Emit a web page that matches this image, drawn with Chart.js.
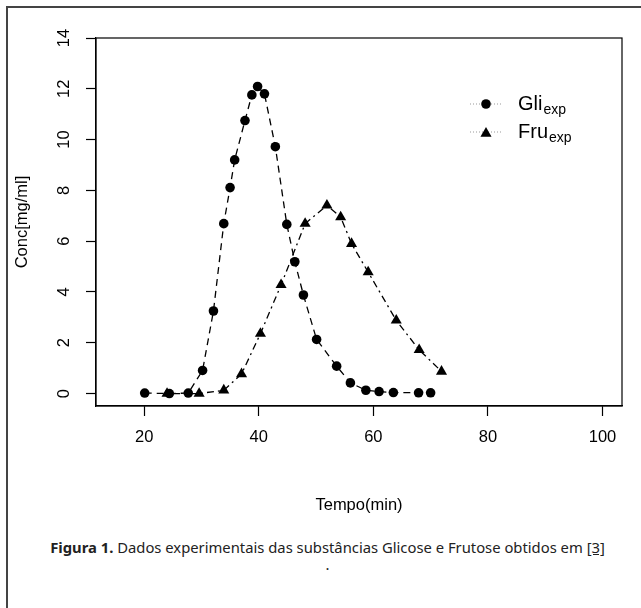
<!DOCTYPE html>
<html>
<head>
<meta charset="utf-8">
<script src="https://cdn.jsdelivr.net/npm/chart.js@4"></script>
<style>
html,body{margin:0;padding:0;background:#fff;width:641px;height:608px;overflow:hidden;}
#frame{position:absolute;left:6px;top:6px;width:700px;height:700px;border-left:2px solid #444;border-top:2px solid #444;}
#wrap{position:absolute;left:0;top:0;width:641px;height:530px;}
#caption{position:absolute;left:7px;width:641px;top:538.5px;text-align:center;font-family:"Noto Sans",sans-serif;font-size:14.8px;color:#222;line-height:17px;white-space:nowrap;}
</style>
</head>
<body>
<div id="frame"></div>
<div id="wrap"><canvas id="c" width="641" height="530"></canvas></div>
<div id="caption"><b>Figura 1.</b> Dados experimentais das substâncias Glicose e Frutose obtidos em <u>[3]</u><br>.</div>
<script>
// ---- data ----
const timeGli = [20.1, 24.4, 27.7, 30.2, 32.1, 33.9, 35.0, 35.8, 37.6, 38.8, 39.8, 41.0, 42.9, 44.9, 46.3, 47.8, 50.1, 53.6, 56.0, 58.7, 61.0, 63.5, 67.9, 70.0];
const concGli = [0.02, 0.0, 0.02, 0.91, 3.25, 6.69, 8.11, 9.2, 10.75, 11.76, 12.09, 11.8, 9.72, 6.66, 5.19, 3.88, 2.13, 1.08, 0.42, 0.13, 0.08, 0.04, 0.03, 0.03];
const timeFru = [24.0, 29.6, 33.9, 37.0, 40.3, 43.9, 48.1, 51.9, 54.3, 56.2, 59.1, 64.0, 68.0, 71.9];
const concFru = [0.0, 0.0, 0.13, 0.77, 2.36, 4.28, 6.69, 7.41, 6.95, 5.9, 4.78, 2.88, 1.72, 0.87];
const xTicks = [20, 40, 60, 80, 100];
const yTicks = [0, 2, 4, 6, 8, 10, 12, 14];
const seriesNames = ['Gli', 'Fru'];
const seriesSub = ['exp', 'exp'];
const xTitle = 'Tempo(min)';
const yTitle = 'Conc[mg/ml]';

const FAM = '"Liberation Sans", Arial, sans-serif';
const AX_FONT = {family: FAM, size: 16.5};
const CIRCLE_R = 4.8;
const TRI_R = 6.4;

function pts(xs, ys){ return xs.map((x,i)=>({x:x, y:ys[i]})); }

function drawMarker(ctx, style, x, y, r){
  ctx.beginPath();
  if(style === 'circle'){
    ctx.arc(x, y, r, 0, Math.PI*2);
  } else {
    const a = 2*Math.PI/3;
    ctx.moveTo(x, y - r);
    ctx.lineTo(x + Math.sin(a)*r, y - Math.cos(a)*r);
    ctx.lineTo(x + Math.sin(2*a)*r, y - Math.cos(2*a)*r);
    ctx.closePath();
  }
  ctx.fill();
}

const boxLegend = {
  id: 'boxLegend',
  afterDraw(chart){
    const {ctx, chartArea: a} = chart;
    ctx.save();
    ctx.strokeStyle = '#000';
    ctx.lineWidth = 1.2;
    ctx.strokeRect(a.left, a.top, a.right - a.left, a.bottom - a.top);
    const styles = ['circle', 'triangle'];
    const radii = [CIRCLE_R, TRI_R];
    const rowY = [104, 132];
    seriesNames.forEach((name, i) => {
      const y = rowY[i];
      ctx.save();
      ctx.strokeStyle = '#999';
      ctx.lineWidth = 1;
      ctx.setLineDash([1, 2]);
      ctx.beginPath(); ctx.moveTo(470, y); ctx.lineTo(502, y); ctx.stroke();
      ctx.restore();
      ctx.fillStyle = '#000';
      drawMarker(ctx, styles[i], 486, i === 1 ? y + 1.5 : y, radii[i]);
      ctx.textBaseline = 'alphabetic';
      ctx.textAlign = 'left';
      ctx.font = '20px ' + FAM;
      ctx.fillText(name, 518, y + 6);
      const w = ctx.measureText(name).width;
      ctx.font = '14px ' + FAM;
      ctx.fillText(seriesSub[i], 518 + w + 1, y + 9.5);
    });
    ctx.restore();
  }
};

new Chart(document.getElementById('c'), {
  type: 'scatter',
  data: {
    datasets: [
      {
        label: seriesNames[0] + seriesSub[0],
        data: pts(timeGli, concGli),
        showLine: true,
        borderColor: '#000',
        borderWidth: 1.3,
        borderDash: [7, 5],
        backgroundColor: '#000',
        pointStyle: 'circle',
        pointRadius: CIRCLE_R,
        pointBorderWidth: 0,
        pointBackgroundColor: '#000'
      },
      {
        label: seriesNames[1] + seriesSub[1],
        data: pts(timeFru, concFru),
        showLine: true,
        borderColor: '#000',
        borderWidth: 1.3,
        borderDash: [2, 4, 7, 4],
        backgroundColor: '#000',
        pointStyle: 'triangle',
        pointRadius: TRI_R,
        pointBorderWidth: 0,
        pointBackgroundColor: '#000'
      }
    ]
  },
  options: {
    responsive: false,
    animation: false,
    layout: {padding: {left: 0, top: 38, right: 19, bottom: 0}},
    plugins: {legend: {display: false}, tooltip: {enabled: false}},
    scales: {
      x: {
        type: 'linear',
        min: 11.6, max: 103.4,
        afterBuildTicks: s => { s.ticks = xTicks.map(v => ({value: v})); },
        afterFit: s => { s.height = 124; },
        grid: {drawOnChartArea: false, drawTicks: true, tickLength: 10, color: '#000', tickWidth: 1.2},
        border: {display: true, color: '#000', width: 1.2},
        ticks: {color: '#000', font: AX_FONT, padding: 12, maxRotation: 0, autoSkip: false, callback: v => String(v)},
        title: {display: true, text: xTitle, color: '#000', font: AX_FONT, padding: {top: 0, bottom: 15}}
      },
      y: {
        type: 'linear',
        min: -0.49, max: 14,
        afterBuildTicks: s => { s.ticks = yTicks.map(v => ({value: v})); },
        afterFit: s => { s.width = 96; },
        grid: {drawOnChartArea: false, drawTicks: true, tickLength: 10, color: '#000', tickWidth: 1.2},
        border: {display: true, color: '#000', width: 1.2},
        ticks: {color: '#000', font: AX_FONT, padding: 12, minRotation: 90, maxRotation: 90, crossAlign: 'center', autoSkip: false, callback: v => String(v)},
        title: {display: true, text: yTitle, color: '#000', font: AX_FONT, padding: {top: 13, bottom: 0}}
      }
    }
  },
  plugins: [boxLegend]
});
</script>
</body>
</html>
